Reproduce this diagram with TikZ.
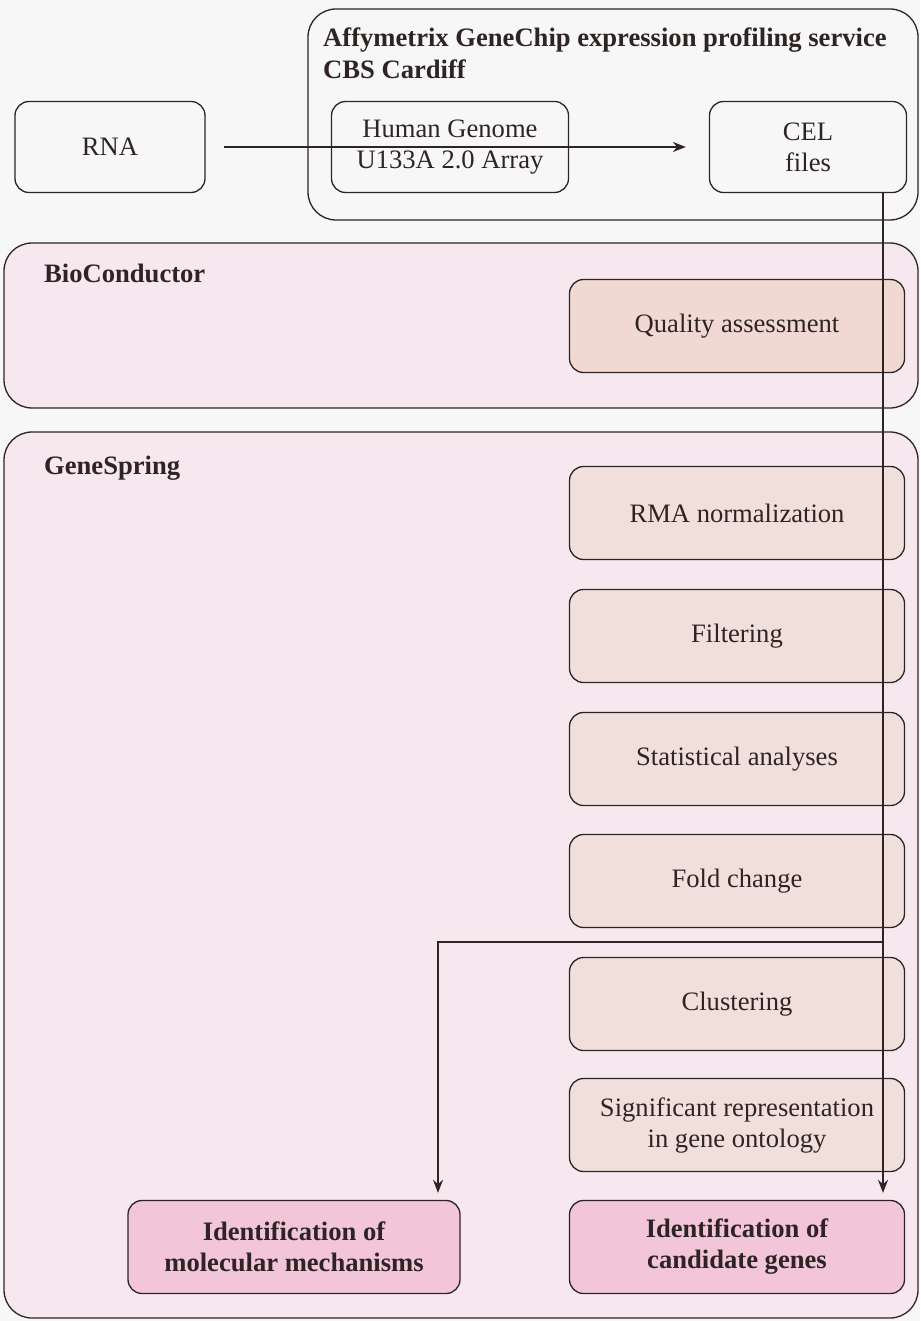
\documentclass[tikz,border=0pt]{standalone}
\usepackage{fontspec}
\setmainfont{Liberation Serif}
\usetikzlibrary{arrows.meta}
\definecolor{ink}{HTML}{2E2424}
\definecolor{paper}{HTML}{F8F7F8}
\definecolor{panelfill}{HTML}{F6E8EE}
\definecolor{stepfill}{HTML}{F1DFDB}
\definecolor{qafill}{HTML}{F2D8D3}
\definecolor{resultfill}{HTML}{F2C5D9}
\tikzset{
  box/.style={draw=ink, line width=1.3pt, rounded corners=14pt, align=center,
    text=ink, font=\fontsize{26.6}{31}\selectfont, inner sep=0pt},
  stepbox/.style={box, fill=stepfill, minimum width=335pt, minimum height=93pt},
  resultbox/.style={stepbox, fill=resultfill, font=\fontsize{26.6}{31}\selectfont\bfseries},
  panel/.style={draw=ink, line width=1.3pt, rounded corners=28pt},
  paneltitle/.style={anchor=west, text=ink, font=\fontsize{26.6}{32}\selectfont\bfseries, inner sep=0pt},
  flow/.style={draw=ink, line width=1.6pt, -{Stealth[length=13pt,width=10pt]}}
}
\begin{document}
\begin{tikzpicture}[x=1pt, y=-1pt]
\fill[paper] (0,0) rectangle (920,1321);
\useasboundingbox (0,0) rectangle (920,1321);

% panels
\draw[panel] (308,9) rectangle (918,220);
\node[paneltitle, align=left, anchor=north west] (affy) at (323,28) {Affymetrix GeneChip expression profiling service\\CBS Cardiff};
\draw[panel, fill=panelfill] (4,243) rectangle (918,408);
\node[paneltitle] (bioc) at (44,273) {BioConductor};
\draw[panel, fill=panelfill] (4,432) rectangle (918,1318);
\node[paneltitle] (gs) at (44,468) {GeneSpring};

% top row
\node[box, minimum width=190pt, minimum height=91pt] (rna) at (110,147) {RNA};
\node[box, minimum width=237pt, minimum height=91pt] (array) at (450,147) {Human Genome\\U133A 2.0 Array};
\node[box, minimum width=197pt, minimum height=91pt] (cel) at (808,147) {CEL\\files};

% steps
\node[stepbox, fill=qafill] (qa) at (737,326) {Quality assessment};
\node[stepbox] (rma) at (737,513) {RMA normalization};
\node[stepbox] (filt) at (737,636) {Filtering};
\node[stepbox] (stat) at (737,759) {Statistical analyses};
\node[stepbox] (fold) at (737,881) {Fold change};
\node[stepbox] (clust) at (737,1004) {Clustering};
\node[stepbox] (sig) at (737,1125) {Significant representation\\in gene ontology};
\node[resultbox] (cand) at (737,1247) {Identification of\\candidate genes};
\node[resultbox, minimum width=332pt] (mol) at (294,1247) {Identification of\\molecular mechanisms};

% connectors
\coordinate (v0) at (883,193);
\coordinate (v1) at (883,942);
\coordinate (v2) at (438,942);
\draw[flow] ([xshift=18pt]rna.east) -- ([xshift=-23pt]cel.west);
\draw[flow] (v0) -- ([yshift=7pt]v0 |- cand.north);
\draw[flow] (v1) -- (v2) -- ([yshift=7pt]v2 |- mol.north);
\end{tikzpicture}
\end{document}
